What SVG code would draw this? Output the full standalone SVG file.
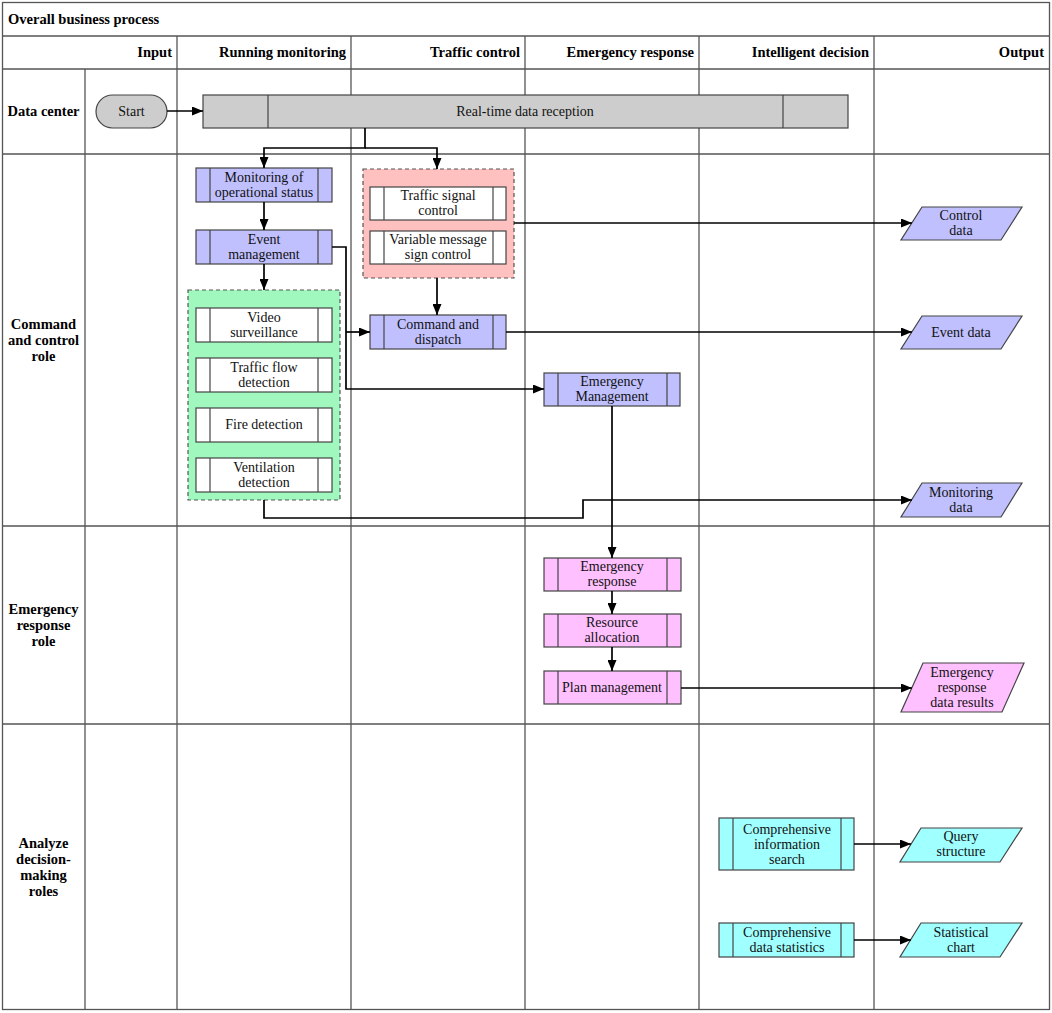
<svg xmlns="http://www.w3.org/2000/svg" width="1052" height="1013" viewBox="0 0 1052 1013">
<defs>
<marker id="arr" markerUnits="userSpaceOnUse" markerWidth="11" markerHeight="9" refX="11" refY="4.5" orient="auto">
<path d="M0,0 L11,4.5 L0,9 z" fill="#000"/>
</marker>
</defs>
<style>
.grid{stroke:#555;stroke-width:1.3;fill:none}
.hd{font-family:"Liberation Serif","Times New Roman",serif;font-weight:bold;font-size:14.5px;fill:#000}
.t{font-family:"Liberation Serif","Times New Roman",serif;font-size:14px;fill:#111;text-anchor:middle}
.box{stroke:#444;stroke-width:1.2}
.in{stroke:#444;stroke-width:1.2;fill:none}
.gray{fill:#cdcdcd}
.blue{fill:#c0c0ff}
.pink{fill:#ffc0ff}
.cyan{fill:#a0ffff}
.white{fill:#fff}
.grp{stroke:#555;stroke-width:1.2;stroke-dasharray:4 3}
.ca{stroke:#000;stroke-width:1.7;fill:none;marker-end:url(#arr)}
</style>
<rect x="0" y="0" width="1052" height="1013" fill="#fff"/>
<g id="lanes">
<rect class="grid" x="2.5" y="2.5" width="1047" height="1007"/>
<line class="grid" x1="2.5" y1="36" x2="1049.5" y2="36"/>
<line class="grid" x1="2.5" y1="69" x2="1049.5" y2="69"/>
<line class="grid" x1="2.5" y1="154" x2="1049.5" y2="154"/>
<line class="grid" x1="2.5" y1="526" x2="1049.5" y2="526"/>
<line class="grid" x1="2.5" y1="724" x2="1049.5" y2="724"/>
<line class="grid" x1="85" y1="69" x2="85" y2="1009.5"/>
<line class="grid" x1="177" y1="36" x2="177" y2="1009.5"/>
<line class="grid" x1="351" y1="36" x2="351" y2="1009.5"/>
<line class="grid" x1="525" y1="36" x2="525" y2="1009.5"/>
<line class="grid" x1="699" y1="36" x2="699" y2="1009.5"/>
<line class="grid" x1="874" y1="36" x2="874" y2="1009.5"/>
<text class="hd" x="8" y="24">Overall business process</text>
<text class="hd" x="172" y="57" text-anchor="end">Input</text>
<text class="hd" x="346" y="57" text-anchor="end">Running monitoring</text>
<text class="hd" x="520" y="57" text-anchor="end">Traffic control</text>
<text class="hd" x="694" y="57" text-anchor="end">Emergency response</text>
<text class="hd" x="869" y="57" text-anchor="end">Intelligent decision</text>
<text class="hd" x="1044" y="57" text-anchor="end">Output</text>
<text class="hd" x="43.5" y="116" text-anchor="middle">Data center</text>
<text class="hd" x="43.5" y="329" text-anchor="middle">Command</text>
<text class="hd" x="43.5" y="345" text-anchor="middle">and control</text>
<text class="hd" x="43.5" y="361" text-anchor="middle">role</text>
<text class="hd" x="43.5" y="614" text-anchor="middle">Emergency</text>
<text class="hd" x="43.5" y="630" text-anchor="middle">response</text>
<text class="hd" x="43.5" y="646" text-anchor="middle">role</text>
<text class="hd" x="43.5" y="848" text-anchor="middle">Analyze</text>
<text class="hd" x="43.5" y="864" text-anchor="middle">decision-</text>
<text class="hd" x="43.5" y="880" text-anchor="middle">making</text>
<text class="hd" x="43.5" y="896" text-anchor="middle">roles</text>
</g>
<g id="group-running">
<rect class="grp" x="188" y="290" width="152" height="210" fill="#a0f8bf"/>
</g>
<g id="group-traffic">
<rect class="grp" x="363" y="169" width="151" height="109" fill="#ffc0c0"/>
</g>
<g id="start">
<rect class="box gray" x="96" y="95" width="71" height="33" rx="16.5"/>
<text class="t" x="131.5" y="116">Start</text>
</g>
<g id="rtdr">
<rect class="box gray" x="203" y="95" width="645" height="33"/>
<line class="in" x1="268" y1="95" x2="268" y2="128"/>
<line class="in" x1="783" y1="95" x2="783" y2="128"/>
<text class="t" x="525" y="116">Real-time data reception</text>
</g>
<g id="mon">
<rect class="box blue" x="196" y="168" width="136" height="34"/>
<line class="in" x1="210" y1="168" x2="210" y2="202"/>
<line class="in" x1="318" y1="168" x2="318" y2="202"/>
<text class="t" x="264" y="182">Monitoring of</text>
<text class="t" x="264" y="197">operational status</text>
</g>
<g id="evt">
<rect class="box blue" x="196" y="230" width="136" height="34"/>
<line class="in" x1="210" y1="230" x2="210" y2="264"/>
<line class="in" x1="318" y1="230" x2="318" y2="264"/>
<text class="t" x="264" y="244">Event</text>
<text class="t" x="264" y="259">management</text>
</g>
<g id="video">
<rect class="box white" x="196" y="308" width="136" height="34"/>
<line class="in" x1="210" y1="308" x2="210" y2="342"/>
<line class="in" x1="318" y1="308" x2="318" y2="342"/>
<text class="t" x="264" y="322">Video</text>
<text class="t" x="264" y="337">surveillance</text>
</g>
<g id="flow">
<rect class="box white" x="196" y="358" width="136" height="34"/>
<line class="in" x1="210" y1="358" x2="210" y2="392"/>
<line class="in" x1="318" y1="358" x2="318" y2="392"/>
<text class="t" x="264" y="372">Traffic flow</text>
<text class="t" x="264" y="387">detection</text>
</g>
<g id="fire">
<rect class="box white" x="196" y="408" width="136" height="34"/>
<line class="in" x1="210" y1="408" x2="210" y2="442"/>
<line class="in" x1="318" y1="408" x2="318" y2="442"/>
<text class="t" x="264" y="429">Fire detection</text>
</g>
<g id="vent">
<rect class="box white" x="196" y="458" width="136" height="34"/>
<line class="in" x1="210" y1="458" x2="210" y2="492"/>
<line class="in" x1="318" y1="458" x2="318" y2="492"/>
<text class="t" x="264" y="472">Ventilation</text>
<text class="t" x="264" y="487">detection</text>
</g>
<g id="tsc">
<rect class="box white" x="370" y="187" width="136" height="33"/>
<line class="in" x1="384" y1="187" x2="384" y2="220"/>
<line class="in" x1="493" y1="187" x2="493" y2="220"/>
<text class="t" x="438" y="200">Traffic signal</text>
<text class="t" x="438" y="215">control</text>
</g>
<g id="vmsc">
<rect class="box white" x="370" y="231" width="136" height="33"/>
<line class="in" x1="384" y1="231" x2="384" y2="264"/>
<line class="in" x1="493" y1="231" x2="493" y2="264"/>
<text class="t" x="438" y="244">Variable message</text>
<text class="t" x="438" y="259">sign control</text>
</g>
<g id="cmd">
<rect class="box blue" x="370" y="315" width="136" height="34"/>
<line class="in" x1="384" y1="315" x2="384" y2="349"/>
<line class="in" x1="493" y1="315" x2="493" y2="349"/>
<text class="t" x="438" y="329">Command and</text>
<text class="t" x="438" y="344">dispatch</text>
</g>
<g id="em">
<rect class="box blue" x="544" y="373" width="136" height="33"/>
<line class="in" x1="558" y1="373" x2="558" y2="406"/>
<line class="in" x1="667" y1="373" x2="667" y2="406"/>
<text class="t" x="612" y="386">Emergency</text>
<text class="t" x="612" y="401">Management</text>
</g>
<g id="er">
<rect class="box pink" x="544" y="558" width="137" height="33"/>
<line class="in" x1="558" y1="558" x2="558" y2="591"/>
<line class="in" x1="667" y1="558" x2="667" y2="591"/>
<text class="t" x="612" y="571">Emergency</text>
<text class="t" x="612" y="586">response</text>
</g>
<g id="ra">
<rect class="box pink" x="544" y="614" width="137" height="33"/>
<line class="in" x1="558" y1="614" x2="558" y2="647"/>
<line class="in" x1="667" y1="614" x2="667" y2="647"/>
<text class="t" x="612" y="627">Resource</text>
<text class="t" x="612" y="642">allocation</text>
</g>
<g id="pm">
<rect class="box pink" x="544" y="671" width="137" height="33"/>
<line class="in" x1="558" y1="671" x2="558" y2="704"/>
<line class="in" x1="667" y1="671" x2="667" y2="704"/>
<text class="t" x="612" y="692">Plan management</text>
</g>
<g id="cis">
<rect class="box cyan" x="719" y="818" width="135" height="52"/>
<line class="in" x1="733" y1="818" x2="733" y2="870"/>
<line class="in" x1="841" y1="818" x2="841" y2="870"/>
<text class="t" x="787" y="834">Comprehensive</text>
<text class="t" x="787" y="849">information</text>
<text class="t" x="787" y="864">search</text>
</g>
<g id="cds">
<rect class="box cyan" x="719" y="923" width="135" height="34"/>
<line class="in" x1="733" y1="923" x2="733" y2="957"/>
<line class="in" x1="841" y1="923" x2="841" y2="957"/>
<text class="t" x="787" y="937">Comprehensive</text>
<text class="t" x="787" y="952">data statistics</text>
</g>
<g id="out-control">
<polygon class="box blue" points="922,207 1022,207 1001,240 901,240"/>
<text class="t" x="961" y="220">Control</text>
<text class="t" x="961" y="235">data</text>
</g>
<g id="out-event">
<polygon class="box blue" points="922,316 1022,316 1001,349 901,349"/>
<text class="t" x="961" y="337">Event data</text>
</g>
<g id="out-monitor">
<polygon class="box blue" points="922,483 1022,483 1001,517 901,517"/>
<text class="t" x="961" y="497">Monitoring</text>
<text class="t" x="961" y="512">data</text>
</g>
<g id="out-emergency">
<polygon class="box pink" points="923,663 1024,663 1002,712 901,712"/>
<text class="t" x="962" y="677">Emergency</text>
<text class="t" x="962" y="692">response</text>
<text class="t" x="962" y="707">data results</text>
</g>
<g id="out-query">
<polygon class="box cyan" points="921,828 1022,828 1000,862 900,862"/>
<text class="t" x="961" y="841">Query</text>
<text class="t" x="961" y="856">structure</text>
</g>
<g id="out-stat">
<polygon class="box cyan" points="921,923 1022,923 1000,957 900,957"/>
<text class="t" x="961" y="937">Statistical</text>
<text class="t" x="961" y="952">chart</text>
</g>
<g id="connectors">
<path class="ca" d="M167,111 H203"/>
<path class="ca" d="M365,128 V148 H264 V168"/>
<path class="ca" d="M365,148 H437 V169"/>
<path class="ca" d="M264,202 V230"/>
<path class="ca" d="M264,264 V290"/>
<path class="ca" d="M332,247 H346 V389 H544"/>
<path class="ca" d="M346,332 H370"/>
<path class="ca" d="M437,278 V315"/>
<path class="ca" d="M514,223 H912"/>
<path class="ca" d="M506,332 H912"/>
<path class="ca" d="M264,500 V518 H583 V500 H912"/>
<path class="ca" d="M612,406 V558"/>
<path class="ca" d="M612,591 V614"/>
<path class="ca" d="M612,647 V671"/>
<path class="ca" d="M681,688 H912"/>
<path class="ca" d="M854,844 H911"/>
<path class="ca" d="M854,940 H911"/>
</g>
</svg>
